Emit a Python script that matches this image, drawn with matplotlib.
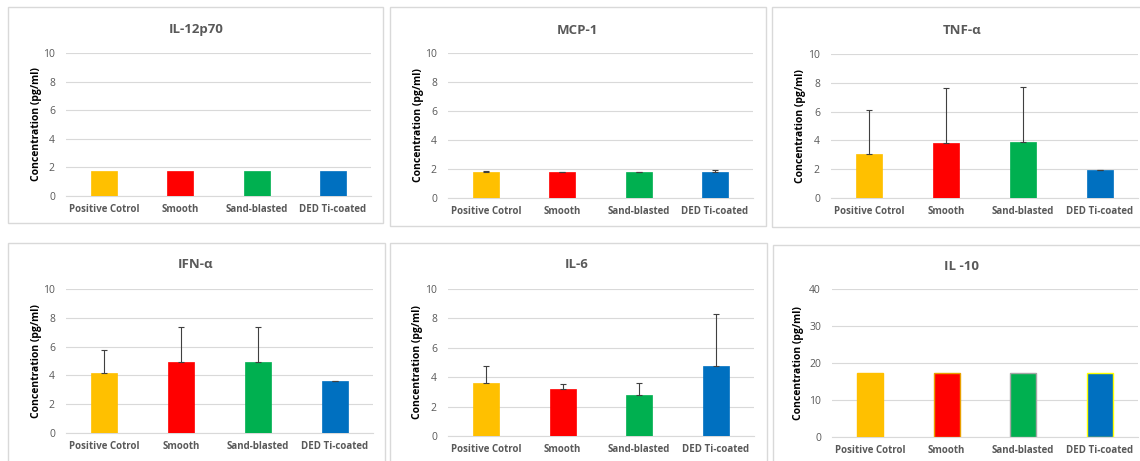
import numpy as np
import matplotlib
matplotlib.use('Agg')
import matplotlib.pyplot as plt
from matplotlib.patches import Rectangle

plt.rcParams['font.family'] = ['Open Sans', 'DejaVu Sans']

W, H = 1140, 461

groups = ['Positive Cotrol', 'Smooth', 'Sand-blasted', 'DED Ti-coated']
bar_colors = ['#FFC000', '#FF0000', '#00B050', '#0070C0']

titles = ['IL-12p70', 'MCP-1', 'TNF-α', 'IFN-α', 'IL-6', 'IL -10']

il12_mean = [1.72, 1.72, 1.72, 1.72]
il12_err = [0.0, 0.0, 0.0, 0.0]
mcp1_mean = [1.81, 1.79, 1.77, 1.82]
mcp1_err = [0.03, 0.03, 0.02, 0.12]
tnf_mean = [3.03, 3.81, 3.86, 1.92]
tnf_err = [3.10, 3.81, 3.83, 0.02]
ifn_mean = [4.17, 4.91, 4.91, 3.61]
ifn_err = [1.62, 2.45, 2.45, 0.02]
il6_mean = [3.58, 3.21, 2.80, 4.78]
il6_err = [1.18, 0.32, 0.82, 3.53]
il10_mean = [17.2, 17.4, 17.3, 17.3]
il10_err = [0.0, 0.0, 0.0, 0.0]

means = [il12_mean, mcp1_mean, tnf_mean, ifn_mean, il6_mean, il10_mean]
errs = [il12_err, mcp1_err, tnf_err, ifn_err, il6_err, il10_err]
ymax = [10, 10, 10, 10, 10, 40]
ystep = [2, 2, 2, 2, 2, 10]

# pixel layout: (plot left, plot right, plot top, plot bottom)
plot_px = [(66, 371, 53, 196), (448, 753, 53, 198), (831, 1138, 54, 198),
           (66, 373, 289, 433), (448, 754, 289, 436), (832, 1138, 289, 437)]
# panel boxes: (left, right, top, bottom)
box_px = [(8, 383, 7, 223), (390, 766, 7, 226), (772, 1150, 7, 227),
          (8, 385, 243, 470), (390, 767, 243, 470), (773, 1150, 245, 470)]
title_px = [(196, 30), (577, 30), (962, 31), (196, 265), (577, 265), (962, 266)]
ylabel_x = [37, 419, 801, 37, 417, 798]

il10_edges = ['#FFC000', '#E8A000', '#A5A5A5', '#FFFF00']

fig = plt.figure(figsize=(W / 100, H / 100), dpi=100)

for (l, r, t, b) in box_px:
    fig.patches.append(Rectangle((l / W, 1 - b / H), (r - l) / W, (b - t) / H,
                                 transform=fig.transFigure, fill=False,
                                 edgecolor='#D9D9D9', linewidth=1.0))

x = np.arange(len(groups))
for i in range(6):
    l, r, t, b = plot_px[i]
    ax = fig.add_axes([l / W, 1 - b / H, (r - l) / W, (b - t) / H])
    edges = il10_edges if i == 5 else bar_colors
    ax.bar(x, means[i], width=0.34, color=bar_colors, edgecolor=edges,
           linewidth=1.0 if i == 5 else 0.5, zorder=3)
    if any(e > 0 for e in errs[i]):
        ax.errorbar(x, means[i], yerr=[np.zeros(4), errs[i]], fmt='none',
                    ecolor='#404040', elinewidth=0.8, capsize=2.5,
                    capthick=0.8, zorder=4)
    ax.set_xlim(-0.5, 3.5)
    ax.set_ylim(0, ymax[i])
    ax.set_yticks(np.arange(0, ymax[i] + 1, ystep[i]))
    ax.set_xticks(x)
    ax.set_xticklabels(groups, fontsize=7, fontweight='bold', color='#595959')
    ax.tick_params(axis='y', labelsize=7.5, colors='#595959', length=0, pad=8)
    ax.tick_params(axis='x', length=0, pad=6)
    ax.grid(axis='y', color='#D9D9D9', linewidth=0.8, zorder=0)
    for s in ['top', 'right', 'left']:
        ax.spines[s].set_visible(False)
    ax.spines['bottom'].set_color('#D9D9D9')
    ax.spines['bottom'].set_linewidth(0.8)

    tx, ty = title_px[i]
    fig.text(tx / W, 1 - ty / H, titles[i], ha='center', va='center',
             fontsize=9.5, fontweight='bold', color='#595959')
    fig.text(ylabel_x[i] / W, 1 - (t + b) / 2 / H, 'Concentration (pg/ml)',
             rotation=90, ha='center', va='center', fontsize=7.5,
             fontweight='bold', color='black')

plt.savefig('out.png', dpi=100)
plt.close()
